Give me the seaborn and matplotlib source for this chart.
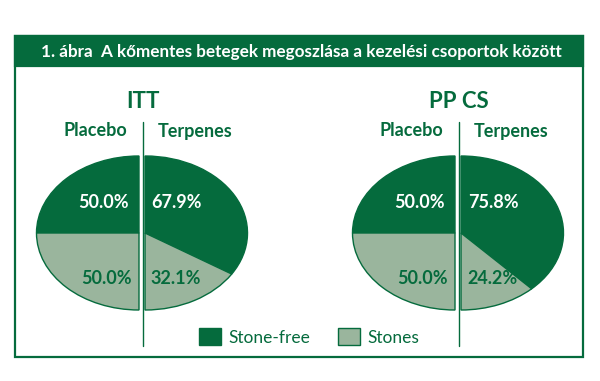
import matplotlib
matplotlib.use("Agg")
import matplotlib.pyplot as plt
from matplotlib.patches import Rectangle, Patch
import seaborn as sns

# ---- data ----
title = "1. ábra  A kőmentes betegek megoszlása a kezelési csoportok között"
populations = ["ITT", "PP CS"]
arms = ["Placebo", "Terpenes"]
categories = ["Stone-free", "Stones"]
placebo_values = [[50.0, 50.0], [50.0, 50.0]]      # per population: stone-free, stones
terpenes_values = [[67.9, 32.1], [75.8, 24.2]]

DARK = "#056b3d"
LIGHT = "#9ab59d"

sns.set_theme(style="white")
plt.rcParams["font.family"] = ["Lato", "DejaVu Sans"]

fig = plt.figure(figsize=(6, 3.81), dpi=100)
bg = fig.add_axes([0, 0, 1, 1])
bg.set_xlim(0, 600)
bg.set_ylim(381, 0)
bg.axis("off")

# frame and header
bg.add_patch(Rectangle((15, 36), 568, 321, fill=False, edgecolor=DARK, lw=1.6, zorder=1))
bg.add_patch(Rectangle((15, 36), 568, 30, facecolor=DARK, edgecolor=DARK, lw=1.6, zorder=2))
bg.text(301, 51.5, title, color="white", fontsize=12.3, fontweight="bold",
        ha="center", va="center", zorder=3)

centers_px = [142, 458]
cy = 233
rx, ry = 102.5, 77
gap = 3.0 / rx
xl, yl = 1.3, 1.2

for i, pop in enumerate(populations):
    cx = centers_px[i]
    w = 2 * xl * rx
    h = 2 * yl * ry
    ax = fig.add_axes([(cx - w / 2) / 600, (381 - cy - h / 2) / 381, w / 600, h / 381])
    wp = dict(edgecolor=DARK, linewidth=1.0)
    pv = placebo_values[i]
    wl, _ = ax.pie(pv + [sum(pv)], colors=[DARK, LIGHT, "white"], startangle=90,
                   counterclock=True, center=(-gap, 0), radius=1, wedgeprops=wp, frame=True)
    wl[-1].set_visible(False)
    tv = terpenes_values[i]
    wr, _ = ax.pie(tv + [sum(tv)], colors=[DARK, LIGHT, "white"], startangle=90,
                   counterclock=False, center=(gap, 0), radius=1, wedgeprops=wp, frame=True)
    wr[-1].set_visible(False)
    ax.set_aspect("auto")
    ax.set_xlim(-xl, xl)
    ax.set_ylim(-yl, yl)
    ax.axis("off")
    bg.plot([cx + 0.5, cx + 0.5], [122, 346], color=DARK, lw=1.0)

# overlay for labels
fg = fig.add_axes([0, 0, 1, 1])
fg.set_xlim(0, 600)
fg.set_ylim(381, 0)
fg.axis("off")
fg.patch.set_alpha(0)

for i, pop in enumerate(populations):
    cx = centers_px[i]
    pv = placebo_values[i]
    tv = terpenes_values[i]
    fg.text(cx + 1, 101, pop, color=DARK, fontsize=16, fontweight="bold", ha="center", va="center")
    fg.text(cx - 47, 131, arms[0], color=DARK, fontsize=13, fontweight="bold", ha="center", va="center")
    fg.text(cx + 53, 131, arms[1], color=DARK, fontsize=13, fontweight="bold", ha="center", va="center")

    fg.text(cx - 39, 202, f"{pv[0]:.1f}%", color="white", fontsize=13, fontweight="bold", ha="center", va="center")
    fg.text(cx - 36, 278, f"{pv[1]:.1f}%", color=DARK, fontsize=13, fontweight="bold", ha="center", va="center")
    fg.text(cx + 35, 202, f"{tv[0]:.1f}%", color="white", fontsize=13, fontweight="bold", ha="center", va="center")
    fg.text(cx + 34, 278, f"{tv[1]:.1f}%", color=DARK, fontsize=13, fontweight="bold", ha="center", va="center")

handles = [Patch(facecolor=DARK, edgecolor=DARK), Patch(facecolor=LIGHT, edgecolor=DARK)]
leg = fig.legend(handles, categories, loc="center", bbox_to_anchor=(309 / 600, 1 - 337 / 381),
                 ncol=2, frameon=False, fontsize=12.5, handlelength=1.3, handleheight=1.1,
                 handletextpad=0.4, columnspacing=1.6, labelcolor=DARK)

fig.savefig("out.png", dpi=100)
